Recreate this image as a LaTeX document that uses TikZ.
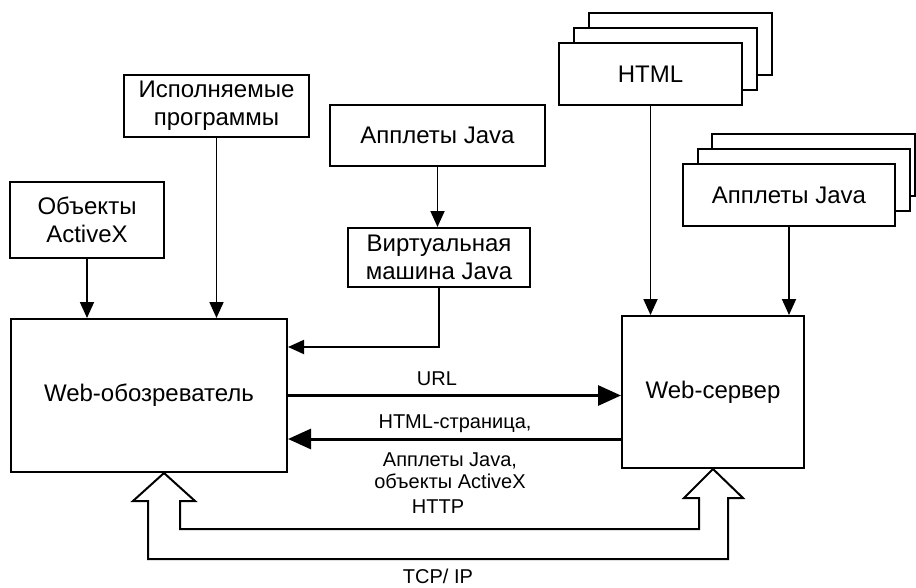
\documentclass[tikz,border=0pt]{standalone}
\usepackage{fontspec}
\setmainfont{Liberation Sans}
\usetikzlibrary{arrows.meta,calc}
\begin{document}
\begin{tikzpicture}[x=1pt, y=-1pt, >={Triangle[length=16pt,width=14pt]},
  box/.style={draw, line width=2pt, fill=white, inner sep=0pt, align=center,
    font=\fontsize{24}{28}\selectfont},
  lbl/.style={inner sep=0pt, align=center, font=\fontsize{20}{22}\selectfont},
  feed/.style={->, line width=1.8pt},
  link/.style={-{Triangle[length=23pt,width=20pt]}, line width=3pt}]
  \useasboundingbox (0,0) rectangle (916,587);
  % sources on the client side
  \node[box, minimum width=154pt, minimum height=76pt] (activex) at (87,220) {Объекты\\ActiveX};
  \node[box, minimum width=185pt, minimum height=62pt] (exec) at (216.5,106) {Исполняемые\\программы};
  \node[box, minimum width=215pt, minimum height=61pt] (applets) at (437.5,135.5) {Апплеты Java};
  \node[box, minimum width=182pt, minimum height=59pt] (jvm) at (439,257.5) {Виртуальная\\машина Java};
  % stacks on the server side
  \node[box, minimum width=183pt, minimum height=62pt] (html3) at (680.5,44) {};
  \node[box, minimum width=183pt, minimum height=62pt] (html2) at (665.5,59) {};
  \node[box, minimum width=183pt, minimum height=62pt] (html) at (650.5,74) {HTML};
  \node[box, minimum width=203pt, minimum height=62pt] (srvapp3) at (813.5,165) {};
  \node[box, minimum width=212pt, minimum height=62pt] (srvapp2) at (804,180) {};
  \node[box, minimum width=212pt, minimum height=62pt] (srvapp) at (789,195) {Апплеты Java};
  % main blocks
  \node[box, minimum width=276pt, minimum height=153pt] (browser) at (149,395.5) {Web-обозреватель};
  \node[box, minimum width=182pt, minimum height=152pt] (server) at (713,392) {Web-сервер};
  \coordinate (jvmin) at ($(browser.north east)+(0,29)$);
  \coordinate (reply) at ($(server.west)+(0,47)$);
  % feeds
  \draw[feed] (activex.south) -- (activex.south |- browser.north);
  \draw[feed] (exec.south) -- (exec.south |- browser.north);
  \draw[feed] (applets.south) -- (applets.south |- jvm.north);
  \draw[feed] (jvm.south) -- (jvm.south |- jvmin) -- (jvmin);
  \draw[feed] (html.south) -- (html.south |- server.north);
  \draw[feed] (srvapp.south) -- (srvapp.south |- server.north);
  % request and reply
  \draw[link] (browser.east) -- (browser.east -| server.west);
  \draw[link] (reply) -- (reply -| browser.east);
  \node[lbl, anchor=base] (url) at (437,385) {URL};
  \node[lbl, anchor=base] (page) at (455,428) {HTML-страница,};
  \node[lbl, anchor=base] (objs) at (450,488) {Апплеты Java,\\объекты ActiveX};
  % protocol channel
  \draw[line width=2pt, line join=miter]
    ($(browser.south)+(15,0)$) -- (195,501) -- (180,501) -- (180,529) -- (699,529)
    -- (699,498) -- (684,498) -- (server.south) -- (743,498) -- (728,498)
    -- (728,559) -- (148,559) -- (148,501) -- (133,501) -- cycle;
  \node[lbl, anchor=base] (http) at (438,513) {HTTP};
  \node[lbl, anchor=base] (tcpip) at (438,583) {TCP/ IP};
\end{tikzpicture}
\end{document}
